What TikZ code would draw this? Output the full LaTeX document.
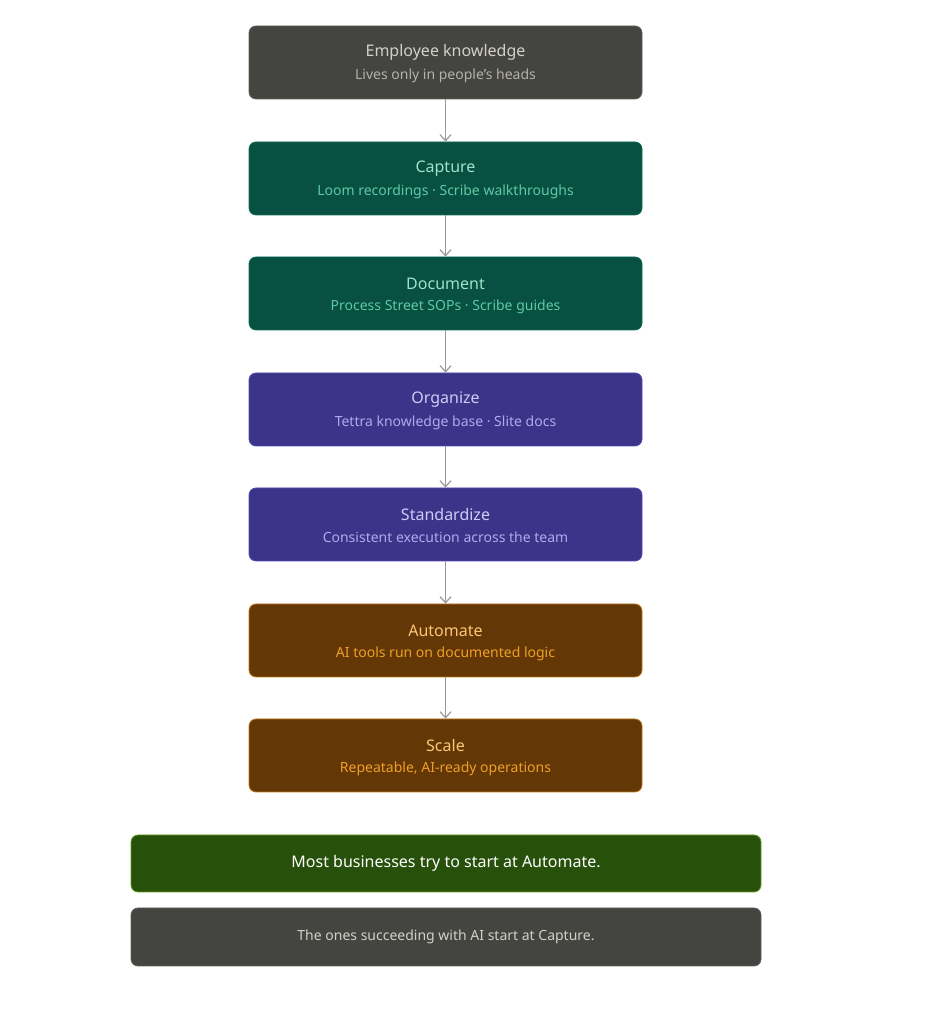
\documentclass[tikz,border=0pt]{standalone}
\usepackage{fontspec}
\setmainfont{Noto Sans}
\usetikzlibrary{arrows.meta}
\definecolor{gbg}{HTML}{444441}\definecolor{gbd}{HTML}{5F5E5A}\definecolor{gt}{HTML}{D3D1C7}\definecolor{gs}{HTML}{B4B2A9}
\definecolor{tbg}{HTML}{085041}\definecolor{tbd}{HTML}{0F6E56}\definecolor{tt}{HTML}{9FE1CB}\definecolor{ts}{HTML}{5DCAA5}
\definecolor{pbg}{HTML}{3C3489}\definecolor{pbd}{HTML}{534AB7}\definecolor{pt}{HTML}{CECBF6}\definecolor{ps}{HTML}{AFA9EC}
\definecolor{bbg}{HTML}{633806}\definecolor{bbd}{HTML}{BA7517}\definecolor{bt}{HTML}{FAC775}\definecolor{bs}{HTML}{EF9F27}
\definecolor{nbg}{HTML}{27500A}\definecolor{nbd}{HTML}{639922}
\tikzset{
 box/.style={draw=#1, line width=0.8pt, rounded corners=7pt, minimum width=393pt, minimum height=73pt, inner sep=0pt},
 ttl/.style={font=\fontsize{16}{19}\selectfont\bfseries},
 sub/.style={font=\fontsize{14}{17}\selectfont},
 arr/.style={draw=gray!80, line width=1.2pt, -{Straight Barb[length=6pt,width=11pt]}}
}
\newcommand{\stageB}[8]{\node[box=#4, fill=#3] (#1) at (445.5pt,#2) {};
 \node[ttl, text=#5] at ([yshift=10pt]#1.center) {#6};
 \node[sub, text=#7] at ([yshift=-13pt]#1.center) {#8};}
\begin{document}
\begin{tikzpicture}[x=1pt,y=1pt]
\useasboundingbox (0,0) rectangle (945,1024);
\stageB{s1}{961.5pt}{gbg}{gbd}{gt}{Employee knowledge}{gs}{Lives only in people's heads}
\stageB{s2}{845.5pt}{tbg}{tbd}{tt}{Capture}{ts}{Loom recordings · Scribe walkthroughs}
\stageB{s3}{730.5pt}{tbg}{tbd}{tt}{Document}{ts}{Process Street SOPs · Scribe guides}
\stageB{s4}{614.5pt}{pbg}{pbd}{pt}{Organize}{ps}{Tettra knowledge base · Slite docs}
\stageB{s5}{499.5pt}{pbg}{pbd}{pt}{Standardize}{ps}{Consistent execution across the team}
\stageB{s6}{383.5pt}{bbg}{bbd}{bt}{Automate}{bs}{AI tools run on documented logic}
\stageB{s7}{268.5pt}{bbg}{bbd}{bt}{Scale}{bs}{Repeatable, AI-ready operations}
\foreach \a/\b in {s1/s2,s2/s3,s3/s4,s4/s5,s5/s6,s6/s7} \draw[arr] (\a) -- (\b);
\node[draw=nbd, fill=nbg, line width=0.8pt, rounded corners=7pt, minimum width=630pt, minimum height=57pt, text=white, font=\fontsize{16}{19}\selectfont\bfseries] (n1) at (446pt,160.5pt) {\raisebox{-8pt}{Most businesses try to start at Automate.}};
\node[draw=gbd, fill=gbg, line width=0.8pt, rounded corners=7pt, minimum width=630pt, minimum height=58pt, text=gt, font=\fontsize{14}{17}\selectfont] (n2) at (446pt,87pt) {\raisebox{-8pt}{The ones succeeding with AI start at Capture.}};
\end{tikzpicture}
\end{document}
